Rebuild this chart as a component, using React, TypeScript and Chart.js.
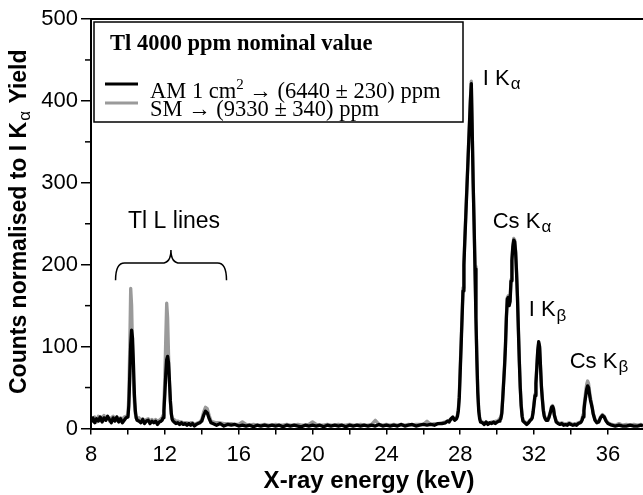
import React, { useEffect, useRef } from 'react';
import { Chart, registerables } from 'chart.js';

Chart.register(...registerables);

// ---------- data ----------
const ENERGY_KEV = [
  8.0, 8.1, 8.2, 8.3, 8.4, 8.5, 8.6, 8.7, 8.8, 8.9, 9.0, 9.1, 9.2, 9.3, 9.4, 9.5, 9.6, 9.7, 9.8, 9.9,
  10.0, 10.05, 10.1, 10.15, 10.2, 10.25, 10.3, 10.35, 10.4, 10.45, 10.5,
  10.6, 10.7, 10.8, 10.9, 11.0, 11.1, 11.2, 11.3, 11.4, 11.5, 11.6, 11.7, 11.8,
  11.85, 11.9, 11.95, 12.0, 12.05, 12.1, 12.15, 12.2, 12.25, 12.3, 12.35, 12.4, 12.45,
  12.5, 12.6, 12.7, 12.8, 12.9, 13.0, 13.1, 13.2, 13.3, 13.4, 13.5, 13.6, 13.7, 13.8, 13.9,
  14.0, 14.1, 14.2, 14.3, 14.4, 14.5,
  14.6, 14.8, 15.0, 15.2, 15.4, 15.6, 15.8, 16.0, 16.2, 16.4, 16.6, 16.8, 17.0, 17.2, 17.4, 17.6,
  17.8, 18.0, 18.2, 18.4, 18.6, 18.8, 19.0, 19.2, 19.4, 19.6, 19.8, 20.0, 20.2, 20.4, 20.6, 20.8,
  21.0, 21.2, 21.4, 21.6, 21.8, 22.0, 22.2, 22.4, 22.6, 22.8, 23.0, 23.2, 23.4, 23.6, 23.8, 24.0,
  24.2, 24.4, 24.6, 24.8, 25.0, 25.2, 25.4, 25.6, 25.8, 26.0, 26.2, 26.4, 26.6, 26.8, 27.0,
  27.2, 27.3, 27.4, 27.5, 27.6, 27.7, 27.8,
  27.85, 27.9, 27.95, 28.0, 28.05, 28.1, 28.15, 28.2, 28.25, 28.3, 28.35, 28.4, 28.45, 28.5, 28.55,
  28.6, 28.65, 28.7, 28.75, 28.8, 28.85, 28.9, 28.95, 29.0, 29.05, 29.1,
  29.2, 29.3, 29.4, 29.5, 29.6, 29.7, 29.8, 29.9, 30.0, 30.1,
  30.15, 30.2, 30.25, 30.3, 30.35, 30.4, 30.45, 30.5, 30.55, 30.6, 30.65, 30.7, 30.75, 30.8, 30.85,
  30.9, 30.95, 31.0, 31.05, 31.1, 31.15, 31.2, 31.25, 31.3, 31.35, 31.4,
  31.5, 31.6, 31.7, 31.8,
  31.85, 31.9, 31.95, 32.0, 32.05, 32.1, 32.15, 32.2, 32.25, 32.3, 32.35, 32.4, 32.45, 32.5, 32.55,
  32.6, 32.65, 32.7, 32.75, 32.8, 32.85, 32.9, 32.95, 33.0, 33.05, 33.1, 33.2, 33.3,
  33.4, 33.5, 33.6, 33.7, 33.8, 33.9, 34.0, 34.1, 34.2, 34.3, 34.4, 34.5,
  34.55, 34.6, 34.65, 34.7, 34.75, 34.8, 34.85, 34.9, 34.95, 35.0, 35.05, 35.1, 35.15, 35.2, 35.3, 35.4,
  35.5, 35.6, 35.7, 35.8, 35.9, 36.0,
  36.2, 36.4, 36.6, 36.8, 37.0, 37.2, 37.4, 37.6, 37.8, 37.9,
];

const AM_COUNTS = [
  8, 13, 7, 12, 9, 14, 8, 13, 10, 15, 11, 7, 13, 9, 14, 8, 12, 7, 10, 13,
  14, 28, 65, 102, 120, 110, 78, 42, 22, 13, 10,
  9, 7, 11, 6, 9, 10, 6, 9, 7, 9, 5, 8, 9,
  10, 13, 22, 42, 66, 84, 88, 80, 58, 34, 18, 11, 9,
  8, 6, 7, 5, 7, 5, 6, 4, 6, 4, 6, 3, 5, 6, 7,
  9, 16, 21, 19, 12, 7,
  6, 4, 6, 3, 5, 4, 5, 3, 4, 3, 4, 2, 4, 3, 4, 3,
  4, 3, 4, 2, 4, 3, 4, 3, 2, 4, 3, 4, 3, 4, 2, 4,
  3, 4, 3, 4, 2, 4, 3, 4, 3, 4, 3, 4, 3, 5, 3, 4,
  3, 4, 3, 5, 3, 4, 5, 3, 4, 5, 4, 5, 4, 6, 6,
  7, 9, 8, 12, 14, 10, 12,
  15, 22, 38, 70, 102, 135, 168, 200, 230, 258, 287, 315, 344, 372, 400,
  421, 362, 300, 250, 195, 135, 85, 44, 22, 12, 8,
  7, 5, 8, 5, 7, 6, 8, 6, 8, 9,
  10, 12, 18, 35, 55, 75, 100, 135, 158, 160, 150, 155, 180, 205, 222,
  230, 228, 215, 190, 160, 120, 82, 50, 28, 15, 9,
  7, 5, 7, 10,
  11, 13, 20, 30, 40, 55, 75, 95, 106, 100, 75, 50, 35, 22, 15,
  12, 10, 10, 11, 13, 17, 21, 26, 27, 24, 16, 8, 6,
  5, 6, 4, 5, 4, 6, 5, 4, 5, 4, 6, 7,
  8, 10, 14, 22, 32, 40, 48, 52, 50, 42, 35, 30, 25, 18, 10, 7,
  8, 13, 16, 14, 9, 6,
  4, 3, 4, 3, 3, 4, 3, 3, 4, 3,
];

const SM_COUNTS = [
  12, 9, 14, 8, 15, 10, 13, 16, 10, 14, 9, 13, 15, 10, 14, 9, 13, 11, 14, 15,
  16, 40, 100, 171, 150, 95, 55, 32, 18, 13, 11,
  13, 10, 12, 9, 11, 12, 9, 11, 9, 11, 9, 10, 12,
  13, 16, 30, 62, 110, 153, 135, 90, 55, 32, 18, 12, 10,
  11, 9, 9, 8, 8, 7, 7, 7, 6, 7, 7, 5, 6, 7, 8,
  11, 20, 26, 24, 16, 9,
  8, 7, 7, 6, 6, 6, 5, 5, 8, 5, 4, 5, 4, 4, 5, 4,
  4, 5, 4, 4, 5, 4, 4, 5, 4, 4, 5, 8, 5, 4, 4, 5,
  4, 4, 5, 4, 4, 5, 4, 4, 5, 4, 4, 5, 10, 5, 4, 5,
  4, 5, 4, 5, 4, 5, 4, 5, 5, 5, 9, 5, 6, 6, 7,
  8, 9, 10, 11, 12, 11, 13,
  17, 25, 42, 75, 108, 140, 172, 204, 233, 262, 290, 318, 346, 374, 402,
  424, 365, 302, 252, 198, 138, 88, 47, 24, 14, 9,
  8, 7, 8, 7, 7, 8, 7, 9, 9, 11,
  11, 14, 20, 38, 58, 78, 104, 138, 160, 162, 152, 158, 182, 208, 224,
  232, 230, 217, 192, 162, 123, 85, 52, 30, 17, 10,
  8, 7, 8, 11,
  12, 14, 22, 32, 42, 57, 77, 96, 104, 98, 74, 52, 37, 24, 17,
  13, 11, 11, 12, 14, 18, 22, 27, 28, 25, 17, 9, 7,
  6, 7, 6, 5, 6, 7, 6, 5, 6, 6, 7, 8,
  9, 12, 17, 26, 36, 46, 54, 58, 55, 46, 38, 32, 26, 19, 11, 8,
  9, 14, 17, 15, 10, 7,
  5, 4, 6, 4, 5, 4, 5, 4, 5, 4,
];

const X_TICKS = [8, 10, 12, 14, 16, 18, 20, 22, 24, 26, 28, 30, 32, 34, 36];
const X_TICK_LABELS = [8, 12, 16, 20, 24, 28, 32, 36];
const Y_TICKS = [0, 100, 200, 300, 400, 500];
const Y_MINOR_TICKS = [50, 150, 250, 350, 450];

const LEGEND_TITLE = 'Tl 4000 ppm nominal value';
const SERIES_AM = 'AM 1 cm² → (6440 ± 230) ppm';
const SERIES_SM = 'SM → (9330 ± 340) ppm';

// peak labels: main text, subscript, energy anchor (left), count anchor (baseline)
const PEAK_LABEL_TEXT = ['I K', 'Cs K', 'I K', 'Cs K'];
const PEAK_LABEL_SUB = ['α', 'α', 'β', 'β'];
const PEAK_LABEL_E = [29.22, 29.76, 31.71, 33.93];
const PEAK_LABEL_C = [420, 245, 137, 74];

const TL_LABEL = 'Tl L lines';
const TL_LABEL_E = 12.5;
const TL_LABEL_C = 245;
const TL_BRACE_E = [9.33, 12.33, 15.34]; // left end, tip, right end
const TL_BRACE_C = [181, 202, 218]; // ends, arms, tip

const SANS = '"Liberation Sans", Arial, sans-serif';
const SERIF = '"Liberation Serif", "Times New Roman", serif';

function drawSubText(ctx: CanvasRenderingContext2D, x: number, y: number, main: string, sub: string, size: number) {
  ctx.font = `${size}px ${SANS}`;
  ctx.fillText(main, x, y);
  const mw = ctx.measureText(main).width;
  ctx.font = `${Math.round(size * 0.78)}px ${SANS}`;
  ctx.fillText(sub, x + mw + 1, y + size * 0.2);
}

const decorPlugin = {
  id: 'decor',
  afterDraw(chart: any) {
    const { ctx, chartArea, scales } = chart;
    const { left, right, top, bottom } = chartArea;
    const xs = scales.x;
    const ys = scales.y;
    ctx.save();
    ctx.fillStyle = '#000';
    ctx.strokeStyle = '#000';

    // top frame line
    ctx.lineWidth = 2;
    ctx.beginPath();
    ctx.moveTo(left, top);
    ctx.lineTo(right, top);
    ctx.stroke();

    // minor y ticks
    ctx.lineWidth = 1.5;
    for (const v of Y_MINOR_TICKS) {
      const py = ys.getPixelForValue(v);
      ctx.beginPath();
      ctx.moveTo(left - 6, py);
      ctx.lineTo(left, py);
      ctx.stroke();
    }

    // peak labels
    ctx.textBaseline = 'alphabetic';
    ctx.textAlign = 'left';
    for (let i = 0; i < PEAK_LABEL_TEXT.length; i++) {
      drawSubText(ctx, xs.getPixelForValue(PEAK_LABEL_E[i]), ys.getPixelForValue(PEAK_LABEL_C[i]), PEAK_LABEL_TEXT[i], PEAK_LABEL_SUB[i], 22);
    }

    // Tl L lines label + brace
    ctx.font = `23px ${SANS}`;
    ctx.textAlign = 'center';
    ctx.fillText(TL_LABEL, xs.getPixelForValue(TL_LABEL_E), ys.getPixelForValue(TL_LABEL_C));
    const bl = xs.getPixelForValue(TL_BRACE_E[0]);
    const bt = xs.getPixelForValue(TL_BRACE_E[1]);
    const br = xs.getPixelForValue(TL_BRACE_E[2]);
    const yEnd = ys.getPixelForValue(TL_BRACE_C[0]);
    const yArm = ys.getPixelForValue(TL_BRACE_C[1]);
    const yTip = ys.getPixelForValue(TL_BRACE_C[2]);
    ctx.lineWidth = 1.5;
    ctx.beginPath();
    ctx.moveTo(bl, yEnd);
    ctx.quadraticCurveTo(bl, yArm, bl + 9, yArm);
    ctx.lineTo(bt - 9, yArm);
    ctx.quadraticCurveTo(bt, yArm, bt, yTip);
    ctx.quadraticCurveTo(bt, yArm, bt + 9, yArm);
    ctx.lineTo(br - 9, yArm);
    ctx.quadraticCurveTo(br, yArm, br, yEnd);
    ctx.stroke();

    // y-axis title (rotated, with subscript)
    ctx.save();
    const t1 = 'Counts normalised to I K';
    const t2 = 'α';
    const t3 = ' Yield';
    ctx.font = `bold 23px ${SANS}`;
    const w1 = ctx.measureText(t1).width;
    const w3 = ctx.measureText(t3).width;
    ctx.font = `17px ${SANS}`;
    const w2 = ctx.measureText(t2).width;
    const total = w1 + w2 + 2 + w3;
    ctx.translate(26, (top + bottom) / 2 - 2);
    ctx.rotate(-Math.PI / 2);
    ctx.textAlign = 'left';
    let cx = -total / 2;
    ctx.font = `bold 23px ${SANS}`;
    ctx.fillText(t1, cx, 0);
    cx += w1 + 1;
    ctx.font = `17px ${SANS}`;
    ctx.fillText(t2, cx, 4);
    cx += w2 + 1;
    ctx.font = `bold 23px ${SANS}`;
    ctx.fillText(t3, cx, 0);
    ctx.restore();

    // x-axis title
    ctx.font = `bold 24px ${SANS}`;
    ctx.textAlign = 'center';
    ctx.fillText('X-ray energy (keV)', (left + right) / 2 + 2, 488);

    // legend box
    const lx = left + 3;
    const ly = top + 3;
    ctx.lineWidth = 1.5;
    ctx.strokeStyle = '#000';
    ctx.strokeRect(lx, ly, 369, 100);
    ctx.textAlign = 'left';
    ctx.font = `bold 22.5px ${SERIF}`;
    ctx.fillText(LEGEND_TITLE, lx + 16, ly + 28);
    ctx.lineWidth = 3;
    ctx.beginPath();
    ctx.moveTo(lx + 11, ly + 62);
    ctx.lineTo(lx + 44, ly + 62);
    ctx.stroke();
    ctx.strokeStyle = '#9a9a9a';
    ctx.beginPath();
    ctx.moveTo(lx + 11, ly + 81);
    ctx.lineTo(lx + 44, ly + 81);
    ctx.stroke();
    ctx.font = `22.5px ${SERIF}`;
    const [amHead, amTail] = SERIES_AM.split('²');
    ctx.fillText(amHead, lx + 56, ly + 76);
    const hw = ctx.measureText(amHead).width;
    ctx.font = `15px ${SERIF}`;
    ctx.fillText('2', lx + 56 + hw, ly + 67);
    const sw = ctx.measureText('2').width;
    ctx.font = `22.5px ${SERIF}`;
    ctx.fillText(amTail, lx + 56 + hw + sw, ly + 76);
    ctx.fillText(SERIES_SM, lx + 56, ly + 94);

    ctx.restore();
  },
};

export default function App() {
  const canvasRef = useRef<HTMLCanvasElement | null>(null);

  useEffect(() => {
    const canvas = canvasRef.current;
    if (!canvas) return;
    const chart = new Chart(canvas, {
      type: 'line',
      data: {
        datasets: [
          {
            label: 'AM',
            data: ENERGY_KEV.map((e, i) => ({ x: e, y: AM_COUNTS[i] })),
            borderColor: '#000000',
            borderWidth: 3.3,
            pointRadius: 0,
            tension: 0,
            borderJoinStyle: 'round',
            order: 0,
          },
          {
            label: 'SM',
            data: ENERGY_KEV.map((e, i) => ({ x: e, y: SM_COUNTS[i] })),
            borderColor: '#9a9a9a',
            borderWidth: 3.3,
            pointRadius: 0,
            tension: 0,
            borderJoinStyle: 'round',
            order: 1,
          },
        ],
      },
      options: {
        responsive: false,
        animation: false,
        devicePixelRatio: 1,
        layout: { padding: { top: 19, right: 0, bottom: 0, left: 0 } },
        plugins: { legend: { display: false }, tooltip: { enabled: false } },
        scales: {
          x: {
            type: 'linear',
            min: 8,
            max: 37.9,
            afterBuildTicks: (scale: any) => {
              scale.ticks = X_TICKS.map((v) => ({ value: v }));
            },
            afterFit: (scale: any) => {
              scale.height = 66.5;
            },
            ticks: {
              autoSkip: false,
              maxRotation: 0,
              color: '#000',
              padding: 7,
              font: { family: SANS, size: 22 },
              callback: (v: any) => (X_TICK_LABELS.includes(Number(v)) ? String(v) : ''),
            },
            grid: { display: true, drawOnChartArea: false, drawTicks: true, tickLength: 6, color: '#000', lineWidth: 1.5 },
            border: { display: true, color: '#000', width: 2 },
          },
          y: {
            type: 'linear',
            min: 0,
            max: 500,
            afterBuildTicks: (scale: any) => {
              scale.ticks = Y_TICKS.map((v) => ({ value: v }));
            },
            afterFit: (scale: any) => {
              scale.width = 91;
            },
            ticks: {
              color: '#000',
              padding: 3,
              font: { family: SANS, size: 22 },
            },
            grid: { display: true, drawOnChartArea: false, drawTicks: true, tickLength: 10, color: '#000', lineWidth: 1.5 },
            border: { display: true, color: '#000', width: 2 },
          },
        },
      },
      plugins: [decorPlugin],
    });
    return () => chart.destroy();
  }, []);

  return (
    <div style={{ position: 'fixed', left: 0, top: 0, width: 643, height: 495, background: '#fff' }}>
      <canvas ref={canvasRef} width={643} height={495} style={{ display: 'block' }} />
    </div>
  );
}
